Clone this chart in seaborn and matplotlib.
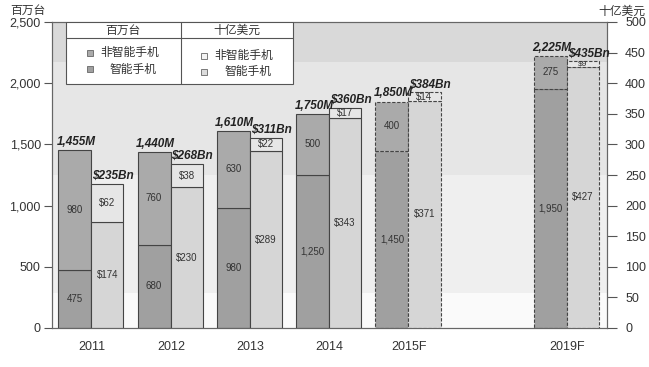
import numpy as np
import pandas as pd
import seaborn as sns
import matplotlib
matplotlib.use('Agg')
import matplotlib.pyplot as plt
from matplotlib.patches import Rectangle
from matplotlib.lines import Line2D

# ---- data ----
axis_cats = ['2011', '2012', '2013', '2014', '2015F', '', '2019F']
years = ['2011', '2012', '2013', '2014', '2015F', '2019F']
units_smart = [475, 680, 980, 1250, 1450, 1950]
units_nonsmart = [980, 760, 630, 500, 400, 275]
units_total = [1455, 1440, 1610, 1750, 1850, 2225]
rev_smart = [174, 230, 289, 343, 371, 427]
rev_nonsmart = [62, 38, 22, 17, 14, 9]
rev_total = [235, 268, 311, 360, 384, 435]
left_ticks = [0, 500, 1000, 1500, 2000, 2500]
right_ticks = [0, 50, 100, 150, 200, 250, 300, 350, 400, 450, 500]

sns.set_theme(style='white')
plt.rcParams['font.family'] = ['Liberation Sans', 'Noto Sans CJK SC', 'DejaVu Sans']
CJK = ['Noto Sans CJK SC', 'DejaVu Sans']

C_U_SMART = '#a0a0a0'
C_U_NON = '#aaaaaa'
C_R_SMART = '#d6d6d6'
C_R_NON = '#e6e6e6'
EDGE = '#444444'
TXT = '#333333'
DASH = (0, (3, 1.5))

fig = plt.figure(figsize=(6.49, 3.67), dpi=100)
fig.patch.set_facecolor('white')
ax = fig.add_axes([52/649, 1-328/367, 555/649, 306/367])
ax2 = ax.twinx()

ax.set_xlim(-0.5, 6.5)
ax.set_ylim(0, 2500)
ax2.set_ylim(0, 500)

# background bands
ax.set_facecolor('#fafafa')
ax.axhspan(2170, 2500, color='#d9d9d9', lw=0, zorder=0)
ax.axhspan(1250, 2170, color='#e6e6e6', lw=0, zorder=0)
ax.axhspan(290, 1250, color='#efefef', lw=0, zorder=0)

pos = [axis_cats.index(y) for y in years]
UW, UO = 0.415, -0.42
RW, RO = 0.405, -0.005

for i, y in enumerate(years):
    p = pos[i]
    ls = DASH if y.endswith('F') else '-'
    ax.bar(p + UO, units_smart[i], width=UW, align='edge', color=C_U_SMART,
           edgecolor=EDGE, linewidth=0.8, linestyle=ls, zorder=2)
    ax.bar(p + UO, units_nonsmart[i], bottom=units_smart[i], width=UW, align='edge',
           color=C_U_NON, edgecolor=EDGE, linewidth=0.8, linestyle=ls, zorder=2)
    ax2.bar(p + RO, rev_smart[i], width=RW, align='edge', color=C_R_SMART,
            edgecolor=EDGE, linewidth=0.8, linestyle=ls, zorder=2)
    ax2.bar(p + RO, rev_nonsmart[i], bottom=rev_smart[i], width=RW, align='edge',
            color=C_R_NON, edgecolor=EDGE, linewidth=0.8, linestyle=ls, zorder=2)

    ucx = p + UO + UW/2
    rcx = p + RO + RW/2
    # inner labels
    ax2.text(ucx, units_smart[i]/2, f"{units_smart[i]:,}", transform=ax.transData,
             ha='center', va='center', fontsize=7, color=TXT, zorder=5)
    ax2.text(ucx, units_smart[i] + units_nonsmart[i]/2, f"{units_nonsmart[i]:,}",
             transform=ax.transData, ha='center', va='center', fontsize=7, color=TXT, zorder=5)
    ax2.text(rcx, rev_smart[i]/2, f"${rev_smart[i]}", ha='center', va='center',
             fontsize=7, color=TXT, zorder=5)
    ax2.text(rcx, rev_smart[i] + rev_nonsmart[i]/2, f"${rev_nonsmart[i]}", ha='center',
             va='center', fontsize=7 if rev_nonsmart[i] > 12 else 6, color=TXT, zorder=5)
    # totals
    ax2.annotate(f"{units_total[i]:,}M", (ucx, units_total[i]), xycoords=ax.transData,
                 xytext=(1, 1.5), textcoords='offset points', ha='center', va='bottom',
                 fontsize=8.5, fontweight='bold', fontstyle='italic', color='#222222', zorder=6)
    ax2.annotate(f"${rev_total[i]}Bn", (rcx, rev_total[i]), xytext=(4, 1.5),
                 textcoords='offset points', ha='center', va='bottom',
                 fontsize=8.5, fontweight='bold', fontstyle='italic', color='#222222', zorder=6)

# axes ticks
ax.set_yticks(left_ticks)
ax.set_yticklabels([f"{v:,}" for v in left_ticks])
ax2.set_yticks(right_ticks)
ax2.set_yticklabels([str(v) for v in right_ticks])
ax.set_xticks(pos)
ax.set_xticklabels(years)
ax.set_xticks([-0.5, 0.5, 1.5, 2.5, 3.5, 4.5, 4.83, 5.17, 5.5, 6.5], minor=True)
ax.tick_params(axis='x', which='major', length=0, pad=9, labelsize=9, labelcolor=TXT)
ax.tick_params(axis='x', which='minor', length=6, width=0.8, color='#555555', direction='out')
ax.tick_params(axis='y', length=6, width=0.8, color='#555555', pad=2, labelsize=9,
               labelcolor=TXT, left=True, direction='out')
ax2.tick_params(axis='y', length=7, width=0.8, color='#555555', pad=6, labelsize=9,
                labelcolor=TXT, right=True, direction='out')
ax.grid(False)
ax2.grid(False)
for a in (ax, ax2):
    for s in a.spines.values():
        s.set_color('#666666')
        s.set_linewidth(0.8)

# axis titles
fig.text(28/649, 1-10/367, '百万台', ha='center', va='center', fontsize=8.5, color=TXT, family=CJK)
fig.text(622/649, 1-11/367, '十亿美元', ha='center', va='center', fontsize=8.5, color=TXT, family=CJK)

# legend box
T = ax2.transAxes
x0, x1, xm = 0.025, 0.434, 0.232
y0, y1, yh = 0.797, 1.0, 0.948
ax2.add_patch(Rectangle((x0, y0), x1-x0, y1-y0, transform=T, facecolor='white',
                        edgecolor='#555555', lw=0.8, zorder=10))
ax2.add_line(Line2D([x0, x1], [yh, yh], transform=T, color='#555555', lw=0.8, zorder=11))
ax2.add_line(Line2D([xm, xm], [y0, y1], transform=T, color='#555555', lw=0.8, zorder=11))
ax2.text((x0+xm)/2, 0.973, '百万台', transform=T, ha='center', va='center',
         fontsize=8.5, color=TXT, family=CJK, zorder=12)
ax2.text((xm+x1)/2, 0.973, '十亿美元', transform=T, ha='center', va='center',
         fontsize=8.5, color=TXT, family=CJK, zorder=12)
sq_w, sq_h = 0.011, 0.02
leg_items = [
    (0.068, 0.899, 0.087, '非智能手机', C_U_NON),
    (0.068, 0.846, 0.104, '智能手机', C_U_SMART),
    (0.274, 0.889, 0.292, '非智能手机', '#f4f4f4'),
    (0.274, 0.837, 0.310, '智能手机', '#dcdcdc'),
]
for sx, sy, tx, lab, col in leg_items:
    ax2.add_patch(Rectangle((sx - sq_w/2, sy - sq_h/2), sq_w, sq_h, transform=T,
                            facecolor=col, edgecolor='#666666', lw=0.6, zorder=12))
    ax2.text(tx, sy, lab, transform=T, ha='left', va='center', fontsize=8.5,
             color=TXT, family=CJK, zorder=12)

fig.savefig('out.png', dpi=100)
